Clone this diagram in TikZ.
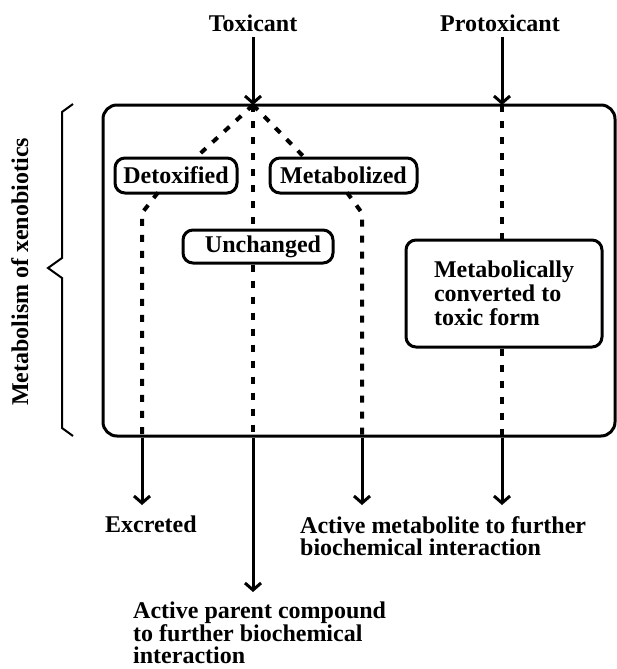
\documentclass[tikz,border=0pt]{standalone}
\usepackage{fontspec}
\setmainfont{Liberation Serif}
\usetikzlibrary{arrows.meta}
\begin{document}
\begin{tikzpicture}[x=1pt,y=-1pt,
  font=\fontsize{24}{22.5}\selectfont\bfseries,
  lbl/.style={inner sep=0pt},
  stage/.style={draw,line width=3pt,rounded corners=10pt,inner sep=0pt,minimum height=35pt},
  solidarrow/.style={line width=3pt,-{Straight Barb[length=7pt,width=16pt]}},
  dashline/.style={line width=4pt,dash pattern=on 7pt off 9pt}
]
\useasboundingbox (0,0) rectangle (617,669);
% labels on top
\node[lbl,anchor=base] (tox) at (253,32) {Toxicant};
\node[lbl,anchor=base] (prot) at (500,32) {Protoxicant};
% main box
\node[draw,line width=3pt,rounded corners=14pt,minimum width=512pt,minimum height=331pt,inner sep=0pt] (main) at (359,270.5) {};
\coordinate (T) at (253,105);
\coordinate (P) at (502,105);
% stage nodes
\node[stage,minimum width=122pt] (detox) at (176,175.5) {Detoxified};
\node[stage,minimum width=147pt] (metab) at (343.5,175.5) {Metabolized};
\node[stage,minimum width=150pt,minimum height=33pt] (unch) at (258,246.5) {\hspace{10pt}Unchanged};
\node[stage,minimum width=196pt,minimum height=107pt,align=left,font=\fontsize{24}{24}\selectfont\bfseries] (conv) at (504,293.5) {Metabolically\\converted to\\toxic form};
% entry arrows
\draw[solidarrow] (tox.south |- 0,37) -- (T);
\draw[solidarrow] (P |- 0,37) -- (P);
% dashed paths inside
\draw[dashline] (T) -- ([xshift=21pt]detox.north);
\draw[dashline] (T) -- ([xshift=-40pt]metab.north);
\draw[dashline] (T) -- (T |- unch.north);
\draw[dashline] (T |- unch.south) -- (T |- main.south);
\coordinate (d1) at (142,213);
\coordinate (m1) at (362,213);
\draw[dashline] ([xshift=-18pt,yshift=2pt]detox.south) -- (d1) -- (d1 |- main.south);
\draw[dashline] ([xshift=3.5pt,yshift=2pt]metab.south) -- (m1) -- (m1 |- main.south);
\draw[dashline] (P) -- (P |- conv.north);
\draw[dashline] (P |- conv.south) -- (P |- main.south);
% exit arrows
\coordinate (e1) at (142,505);
\coordinate (e2) at (253,592);
\coordinate (e3) at (362,505);
\coordinate (e4) at (502,505);
\draw[solidarrow] (d1 |- main.south) -- (e1);
\draw[solidarrow] (T |- main.south) -- (e2);
\draw[solidarrow] (m1 |- main.south) -- (e3);
\draw[solidarrow] (P |- main.south) -- (e4);
% outcome labels
\node[lbl,anchor=base west] (excr) at (105,532) {Excreted};
\node[lbl,anchor=north west,align=left] (actm) at (300,516) {Active metabolite to further\\biochemical interaction};
\node[lbl,anchor=north west,align=left] (actp) at (133,602) {Active parent compound\\to further biochemical\\interaction};
% brace
\draw[line width=2pt,line join=miter] (73,104) -- (62,112) -- (62,258) -- (48,268) -- (62,278) -- (62,428) -- (73,436);
\node[lbl,rotate=90,anchor=base] (meta) at (28,272) {Metabolism of xenobiotics};
\end{tikzpicture}
\end{document}
